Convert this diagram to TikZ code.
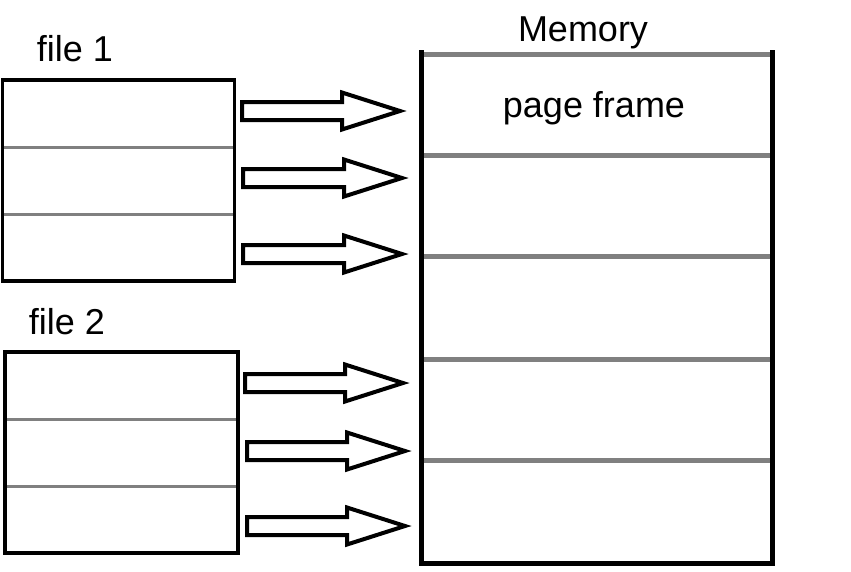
\documentclass[tikz,border=0pt]{standalone}
\usepackage{fontspec}
\setmainfont{Liberation Sans}
\tikzset{
  outline/.style={draw=black,line width=3.5pt},
  divider/.style={draw=black!50,line width=3pt},
  memside/.style={draw=black,line width=5pt},
  memdiv/.style={draw=black!50,line width=5pt},
  blockarrow/.style={draw=black,line width=4pt,fill=white,line join=miter},
  lbl/.style={anchor=base,inner sep=0pt,font=\fontsize{36}{43}\selectfont}
}
\newcommand\blkarr[4]{% #1 left x, #2 center y, #3 tip x, #4 name
  \draw[blockarrow] (#1,#2-9) -- (#3-58,#2-9) -- (#3-58,#2-18.5) -- (#3,#2)
    coordinate (#4) -- (#3-58,#2+18.5) -- (#3-58,#2+9) -- (#1,#2+9) -- cycle;}
\begin{document}
\begin{tikzpicture}[x=1pt,y=-1pt]
\useasboundingbox (0,0) rectangle (851,571);
% file 1
\node[lbl] (f1lbl) at (75,61) {file 1};
\draw[divider] (2.5,147) -- (234.5,147);
\draw[divider] (2.5,214) -- (234.5,214);
\draw[outline] (2.5,80) rectangle (234.5,281);
% file 2
\node[lbl] (f2lbl) at (67,334) {file 2};
\draw[divider] (5,419) -- (238,419);
\draw[divider] (5,486) -- (238,486);
\draw[outline] (5,352) rectangle (238,553);
% memory
\node[lbl] (memlbl) at (583,41) {Memory};
\foreach \yy in {54,155,256,359,460}
  \draw[memdiv] (421,\yy) -- (772,\yy);
\draw[memside] (421,50) -- (421,563) -- (772,563) -- (772,50);
\node[lbl] (pf) at (594,117) {page frame};
% block arrows
\blkarr{242}{111}{400}{t1}
\blkarr{243}{178}{402}{t2}
\blkarr{243}{254}{402}{t3}
\blkarr{245}{383}{403}{t4}
\blkarr{247}{451}{405}{t5}
\blkarr{247}{526}{405}{t6}
\end{tikzpicture}
\end{document}
